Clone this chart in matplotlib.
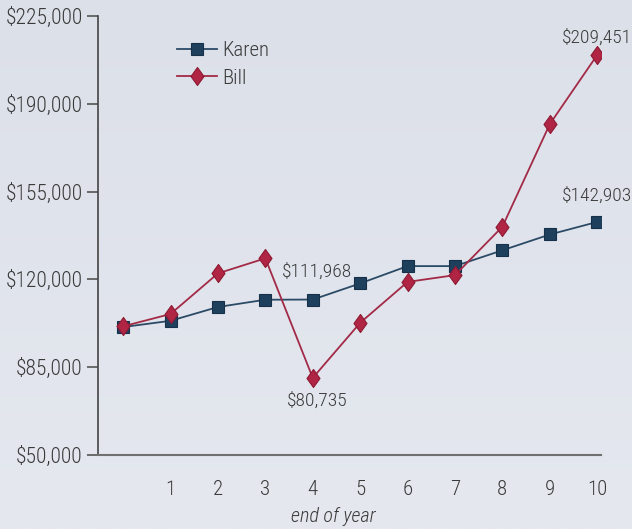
import numpy as np
import matplotlib.pyplot as plt
from matplotlib.colors import LinearSegmentedColormap
from matplotlib.path import Path
from matplotlib.ticker import FuncFormatter

plt.rcParams['font.family'] = ['Roboto Condensed', 'IBM Plex Sans Condensed', 'DejaVu Sans']
plt.rcParams['font.weight'] = 'light'

years = list(range(11))
karen = [101000, 103500, 109000, 111900, 111968, 118400, 125300, 125300, 131600, 137900, 142903]
bill = [101300, 106200, 122400, 128400, 80735, 102700, 119000, 121700, 141000, 181900, 209451]
y_ticks = [50000, 85000, 120000, 155000, 190000, 225000]
x_ticks = list(range(1, 11))

text_col = '#3a3a3a'

# narrow diamond like the original
diamond = Path([(0, 1), (0.72, 0), (0, -1), (-0.72, 0), (0, 1)],
               [Path.MOVETO, Path.LINETO, Path.LINETO, Path.LINETO, Path.CLOSEPOLY])

fig = plt.figure(figsize=(6.32, 5.29), dpi=100)

bg = fig.add_axes([0, 0, 1, 1], zorder=-10)
grad = np.linspace(0, 1, 256).reshape(-1, 1)
bg.imshow(grad, aspect='auto', extent=[0, 1, 0, 1], origin='upper',
          cmap=LinearSegmentedColormap.from_list('bg', ['#dce0e9', '#e5e8ef']))
bg.axis('off')

ax = fig.add_axes([98 / 632, 1 - 455 / 529, (601 - 98) / 632, (455 - 16) / 529])
ax.set_facecolor('none')

ax.plot(years, karen, color='#2b4a66', lw=1.3, marker='s', ms=9,
        mfc='#1f405d', mec='#16304a', mew=0.8, label='Karen', zorder=3)
ax.plot(years, bill, color='#a32a47', lw=1.3, marker=diamond, ms=13,
        mfc='#b02444', mec='#8e1a33', mew=0.8, label='Bill', zorder=4)

ax.set_xlim(-0.53, 10.08)
ax.set_ylim(50000, 225000)
ax.set_yticks(y_ticks)
ax.yaxis.set_major_formatter(FuncFormatter(lambda v, p: f'${v:,.0f}'))
ax.set_xticks(x_ticks)

for s in ['top', 'right']:
    ax.spines[s].set_visible(False)
ax.spines['left'].set_color('#444444')
ax.spines['left'].set_linewidth(1.2)
ax.spines['bottom'].set_color('#707070')
ax.spines['bottom'].set_linewidth(1.5)

ax.tick_params(axis='y', length=8, width=1.2, color='#555555', pad=3,
               labelsize=15.5, labelcolor=text_col)
ax.tick_params(axis='x', length=0, pad=18, labelsize=15, labelcolor=text_col)

fig.text(333 / 632, 1 - 517 / 529, 'end of year', ha='center', va='center',
         fontsize=14.5, style='italic', color=text_col)

ax.text(4.09, karen[4] + 11000, '$111,968', ha='center', va='center',
        fontsize=14, color=text_col)
ax.text(4.09, bill[4] - 9200, '$80,735', ha='center', va='center',
        fontsize=14, color=text_col)
ax.text(10.0, bill[10] + 6800, '$209,451', ha='center', va='center',
        fontsize=14, color=text_col)
ax.text(10.0, karen[10] + 10300, '$142,903', ha='center', va='center',
        fontsize=14, color=text_col)

ax.legend(loc='upper left', bbox_to_anchor=(0.157, 0.943), frameon=False,
          borderpad=0, borderaxespad=0, fontsize=15, handlelength=1.9,
          handletextpad=0.25, labelspacing=0.42, labelcolor=text_col)

fig.savefig('out.png', dpi=100)
